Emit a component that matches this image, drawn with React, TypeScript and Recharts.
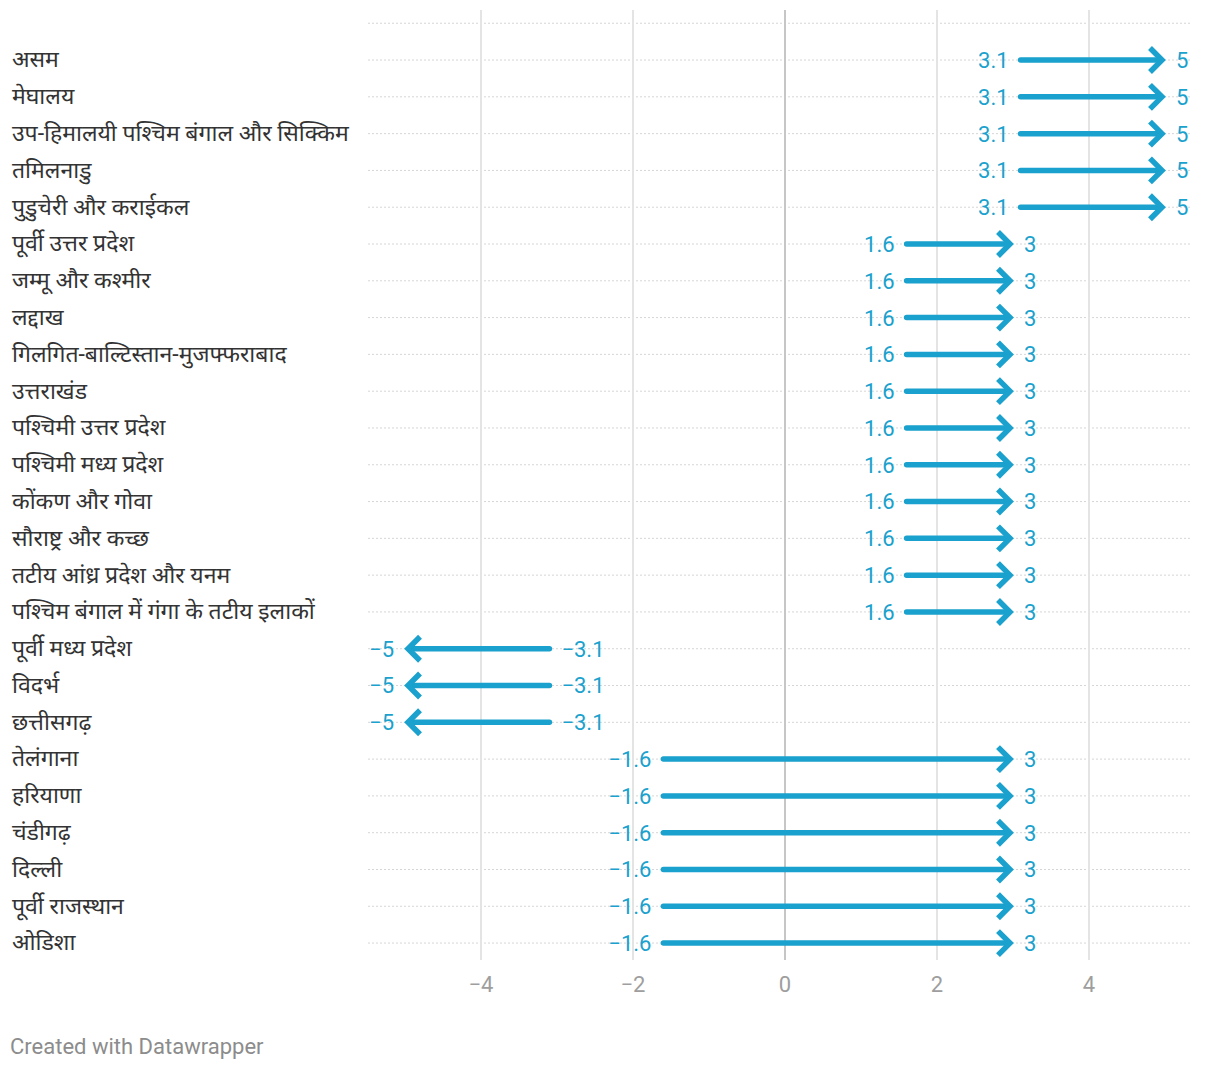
import React from "react";
import {
  ScatterChart,
  Scatter,
  XAxis,
  YAxis,
  ReferenceLine,
} from "recharts";

const regions = [
  "असम",
  "मेघालय",
  "उप-हिमालयी पश्चिम बंगाल और सिक्किम",
  "तमिलनाडु",
  "पुडुचेरी और कराईकल",
  "पूर्वी उत्तर प्रदेश",
  "जम्मू और कश्मीर",
  "लद्दाख",
  "गिलगित-बाल्टिस्तान-मुजफ्फराबाद",
  "उत्तराखंड",
  "पश्चिमी उत्तर प्रदेश",
  "पश्चिमी मध्य प्रदेश",
  "कोंकण और गोवा",
  "सौराष्ट्र और कच्छ",
  "तटीय आंध्र प्रदेश और यनम",
  "पश्चिम बंगाल में गंगा के तटीय इलाकों",
  "पूर्वी मध्य प्रदेश",
  "विदर्भ",
  "छत्तीसगढ़",
  "तेलंगाना",
  "हरियाणा",
  "चंडीगढ़",
  "दिल्ली",
  "पूर्वी राजस्थान",
  "ओडिशा",
];

const startValues = [
  3.1, 3.1, 3.1, 3.1, 3.1, 1.6, 1.6, 1.6, 1.6, 1.6, 1.6, 1.6, 1.6, 1.6, 1.6,
  1.6, -3.1, -3.1, -3.1, -1.6, -1.6, -1.6, -1.6, -1.6, -1.6,
];

const endValues = [
  5, 5, 5, 5, 5, 3, 3, 3, 3, 3, 3, 3, 3, 3, 3, 3, -5, -5, -5, 3, 3, 3, 3, 3,
  3,
];

const xTicks = [-4, -2, 0, 2, 4];
const rowTicks = [-1, ...regions.map((_, i) => i)];

const BLUE = "#1aa1cd";
const FONT = "Roboto, 'Noto Sans', sans-serif";

const data = regions.map((name, i) => ({
  name,
  row: i,
  start: startValues[i],
  end: endValues[i],
}));

const fmt = (v: number) => String(v).replace("-", "\u2212");

const makeArrow = (start: number, end: number) => (props: any) => {
  const { x1, y1, x2 } = props;
  const dir = x2 >= x1 ? 1 : -1;
  const tip = x2 - dir * 3;
  return (
    <g>
      <line
        x1={x1}
        y1={y1}
        x2={tip - dir * 2}
        y2={y1}
        stroke={BLUE}
        strokeWidth={5.5}
        strokeLinecap="round"
      />
      <polyline
        points={`${tip - dir * 12},${y1 - 12} ${tip},${y1} ${tip - dir * 12},${y1 + 12}`}
        fill="none"
        stroke={BLUE}
        strokeWidth={5.5}
        strokeLinejoin="miter"
      />
      <text
        x={x1 - dir * 12}
        y={y1}
        dy="0.36em"
        textAnchor={dir > 0 ? "end" : "start"}
        fill={BLUE}
        fontSize={22}
        fontFamily={FONT}
      >
        {fmt(start)}
      </text>
      <text
        x={x2 + dir * 11}
        y={y1}
        dy="0.36em"
        textAnchor={dir > 0 ? "start" : "end"}
        fill={BLUE}
        fontSize={22}
        fontFamily={FONT}
      >
        {fmt(end)}
      </text>
    </g>
  );
};

const RegionTick = (props: any) => {
  const { y, payload } = props;
  const name = regions[payload.value];
  if (!name) return null;
  return (
    <text
      x={4}
      y={y}
      dy="0.32em"
      textAnchor="start"
      fill="#333"
      fontSize={23}
      fontFamily={FONT}
    >
      {name}
    </text>
  );
};

export default function App() {
  return (
    <div style={{ width: 1204, fontFamily: FONT }}>
      <ScatterChart
        width={1204}
        height={1000}
        margin={{ top: 2, right: 22, bottom: 0, left: 0 }}
      >
        <XAxis
          type="number"
          dataKey="start"
          domain={[-5.487, 5.329]}
          allowDataOverflow
          ticks={xTicks}
          tickFormatter={fmt}
          axisLine={false}
          tickLine={false}
          tickSize={0}
          tickMargin={16}
          height={48}
          tick={{ fill: "#9e9e9e", fontSize: 22, fontFamily: FONT }}
        />
        <YAxis
          type="number"
          dataKey="row"
          domain={[-1.36, 24.46]}
          allowDataOverflow
          reversed
          ticks={rowTicks}
          interval={0}
          width={360}
          axisLine={false}
          tickLine={false}
          tick={<RegionTick />}
        />
        {rowTicks.map((t) => (
          <ReferenceLine
            key={"h" + t}
            y={t}
            stroke="#d6d6d6"
            strokeWidth={1}
            strokeDasharray="2 2"
          />
        ))}
        {xTicks.map((t) => (
          <ReferenceLine
            key={"v" + t}
            x={t}
            stroke={t === 0 ? "#c6c6c6" : "#e4e4e4"}
            strokeWidth={2}
          />
        ))}
        <Scatter
          data={data}
          isAnimationActive={false}
          shape={() => <g />}
        />
        {data.map((d) => (
          <ReferenceLine
            key={d.row}
            segment={[
              { x: d.start, y: d.row },
              { x: d.end, y: d.row },
            ]}
            shape={makeArrow(d.start, d.end)}
          />
        ))}
      </ScatterChart>
      <div
        style={{
          marginTop: 26,
          marginLeft: 2,
          fontSize: 22,
          color: "#8c8c8c",
        }}
      >
        Created with Datawrapper
      </div>
    </div>
  );
}
